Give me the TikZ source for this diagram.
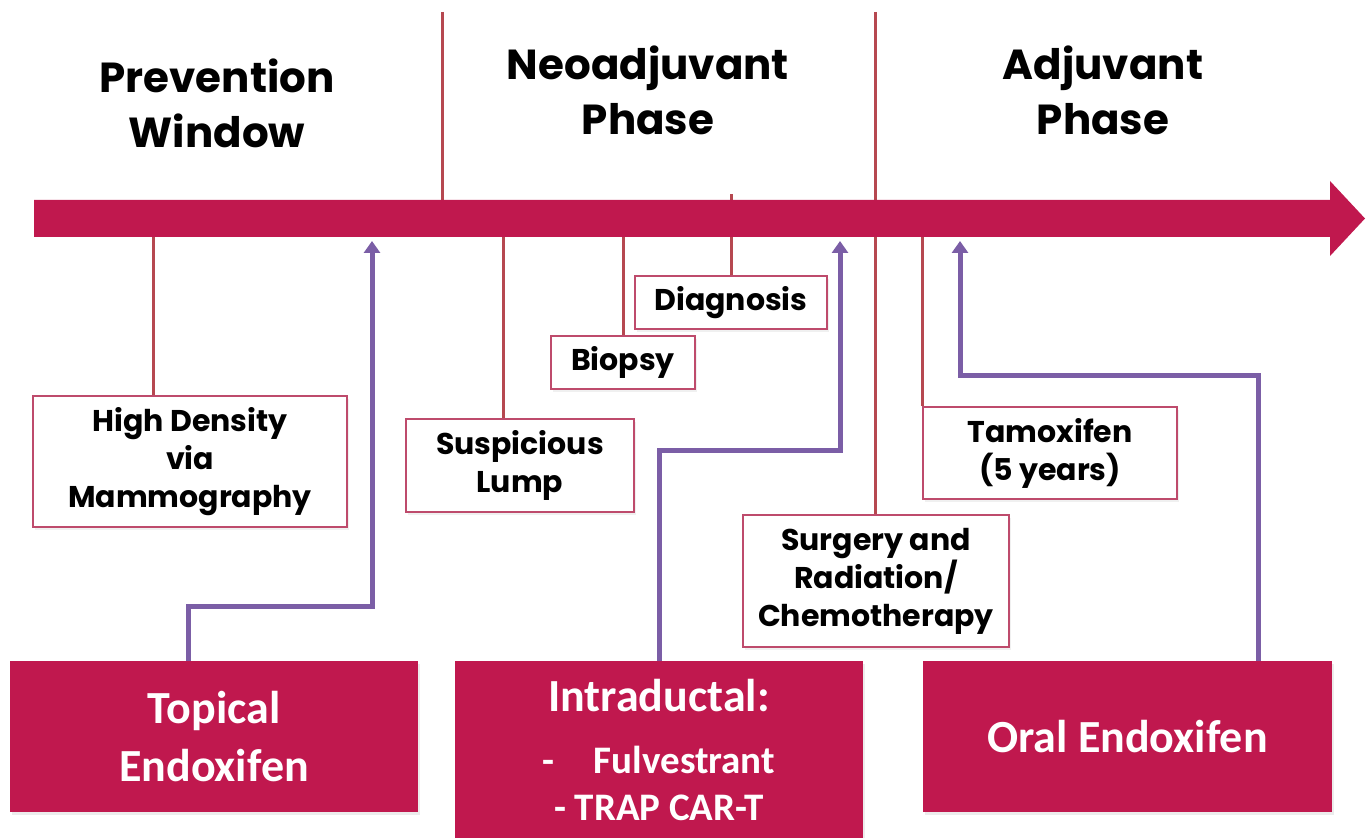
\documentclass[tikz,border=0pt]{standalone}
\usepackage{fontspec}
\setmainfont{Poppins}
\newfontfamily\calibri{Carlito}
\usetikzlibrary{shapes,arrows.meta,positioning,shadows}

\definecolor{crimson}{RGB}{192,24,78}
\definecolor{tickred}{RGB}{182,72,80}
\definecolor{boxline}{RGB}{190,75,108}
\definecolor{routepurple}{RGB}{123,94,166}

\begin{document}
\begin{tikzpicture}[x=0.5pt, y=-0.5pt]

% Define styles
\tikzstyle{phase} = [font=\bfseries\fontsize{21}{27.5}\selectfont, align=center]
\tikzstyle{event} = [rectangle, draw=boxline, line width=0.8pt, inner sep=0pt, align=center, fill=white, drop shadow={opacity=0.12, shadow xshift=1pt, shadow yshift=-1.5pt}, font=\bfseries\fontsize{15}{19}\selectfont]
\tikzstyle{therapy} = [rectangle, fill=crimson, inner sep=0pt, align=center, text=white, drop shadow={opacity=0.15, shadow xshift=1pt, shadow yshift=-1.5pt}, font=\calibri\bfseries\fontsize{23}{29}\selectfont]
\tikzstyle{tick} = [draw=tickred, line width=1.5pt]
\tikzstyle{route} = [draw=routepurple, line width=2.5pt, -{Triangle[width=8pt,length=6pt]}]

\useasboundingbox (0,0) rectangle (1369,838);

% Phase titles
\node [phase] (prevention) at (217,103) {Prevention\\Window};
\node [phase] (neoadjuvant) at (648,90) {Neoadjuvant\\Phase};
\node [phase] (adjuvant) at (1103,90) {Adjuvant\\Phase};

% Events on the time line
\node [event, minimum width=157pt, minimum height=65.5pt] (density) at (190,461.5) {High Density\\via\\Mammography};
\node [event, minimum width=114pt, minimum height=46.5pt] (lump) at (520,465.5) {Suspicious\\Lump};
\node [event, minimum width=72pt, minimum height=26.5pt] (biopsy) at (623,362.5) {Biopsy};
\node [event, minimum width=96pt, minimum height=26.5pt] (diagnosis) at (731,302.5) {Diagnosis};
\node [event, minimum width=133pt, minimum height=66pt] (surgery) at (876,581) {Surgery and\\Radiation/\\Chemotherapy};
\node [event, minimum width=127pt, minimum height=46pt] (tamoxifen) at (1050,453) {Tamoxifen\\(5 years)};

% Therapies
\node [therapy, minimum width=204pt, minimum height=75.5pt] (topical) at (214,736.5) {Topical\\Endoxifen};
\node [therapy, minimum width=204pt, minimum height=88.5pt, font=\calibri\bfseries\fontsize{23}{23.5}\selectfont] (intraductal) at (659,749.5) {Intraductal:\\[7.5pt]{\fontsize{19.5}{23.5}\selectfont -\quad Fulvestrant}\\{\fontsize{19.5}{23.5}\selectfont - TRAP CAR-T}};
\node [therapy, minimum width=204.5pt, minimum height=75.5pt] (oral) at (1127.5,736.5) {Oral Endoxifen};

% Time line coordinates
\coordinate (top) at (0,12);
\coordinate (abovebar) at (0,194);
\coordinate (barmid) at (0,218);
\coordinate (barbot) at (0,241);
\coordinate (border1) at (442,12);
\coordinate (border2) at (875,12);

% Ticks and phase borders (behind the bar)
\draw [tick] (border1) -- (border1 |- barmid);
\draw [tick] (border2) -- (border2 |- surgery.north);
\draw [tick] ([xshift=-18.5pt]density.north) -- ([xshift=-18.5pt]density.north |- barmid);
\draw [tick] ([xshift=-8.5pt]lump.north) -- ([xshift=-8.5pt]lump.north |- barmid);
\draw [tick] (biopsy.north) -- (biopsy.north |- barmid);
\draw [tick] (diagnosis.north) -- (diagnosis.north |- abovebar);
\draw [tick] (tamoxifen.north west) -- (tamoxifen.north west |- barmid);

% Time line arrow
\fill [crimson] (34,200) -- (1330,200) -- (1330,181) -- (1365,218.5) -- (1330,256) -- (1330,237) -- (34,237) -- cycle;

% Arrows
\coordinate (tbend) at (372,606);
\coordinate (ibend) at (840,451);
\coordinate (obend) at (960,376);
\draw [route] ([xshift=-13pt]topical.north) |- (tbend) -- (tbend |- barbot);
\draw [route] (intraductal.north) |- (ibend) -- (ibend |- barbot);
\draw [route] ([xshift=65.25pt]oral.north) |- (obend) -- (obend |- barbot);

\end{tikzpicture}
\end{document}
